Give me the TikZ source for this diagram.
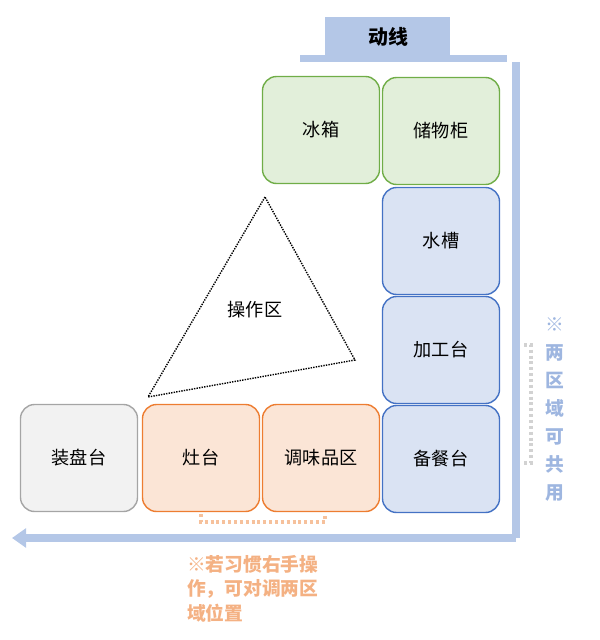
\documentclass[tikz,border=0pt]{standalone}
\usepackage{fontspec}
\setmainfont{Noto Sans CJK SC}
\usetikzlibrary{arrows.meta}
\definecolor{gfill}{HTML}{E2EFDA}
\definecolor{gline}{HTML}{70AD47}
\definecolor{bfill}{HTML}{DAE3F3}
\definecolor{bline}{HTML}{4472C4}
\definecolor{ofill}{HTML}{FBE5D6}
\definecolor{oline}{HTML}{ED7D31}
\definecolor{kfill}{HTML}{F2F2F2}
\definecolor{kline}{HTML}{A5A5A5}
\definecolor{flow}{HTML}{B4C7E7}
\definecolor{note}{HTML}{F4B183}
\tikzset{
  zone/.style={draw, line width=1.2pt, rounded corners=12pt, minimum width=117\pxu, minimum height=107\pxu, font=\fontsize{15.5}{18}\selectfont},
  green/.style={zone, fill=gfill, draw=gline},
  blue/.style={zone, fill=bfill, draw=bline},
  orange/.style={zone, fill=ofill, draw=oline},
  gray/.style={zone, fill=kfill, draw=kline},
  bracket/.style={line width=3pt, dash pattern=on 2.5pt off 2.5pt},
}
\newlength{\pxu}
\setlength{\pxu}{0.03cm}
\begin{document}
\begin{tikzpicture}[x=0.03cm, y=-0.03cm]
            \useasboundingbox (0,0) rectangle (600,640);
            % flow line
            \fill [flow] (325,17) rectangle (450,57);
            \node (title) at (388,37) {\fontsize{17}{20}\selectfont\bfseries 动线};
            \fill [flow] (300,55) rectangle (507,62);
            \coordinate (top) at (516,62);
            \coordinate (corner) at (516,538);
            \coordinate (end) at (12,538);
            \draw [flow, line width=7pt] (top) -- (corner);
            \draw [flow, line width=7pt, -{Triangle[length=12pt,width=16pt]}] (corner) -- (end);
            % zones
            \node [green] (fridge) at (321,130) {冰箱};
            \node [green] (store) at (441,131) {储物柜};
            \node [blue] (sink) at (441,241) {水槽};
            \node [blue] (prep) at (441,350) {加工台};
            \node [blue] (serve) at (441,459) {备餐台};
            \node [orange] (season) at (321,458) {调味品区};
            \node [orange] (stove) at (201,458) {灶台};
            \node [gray] (plate) at (79,458) {装盘台};
            % work triangle
            \coordinate (apex) at (265,197);
            \coordinate (left) at (148,397);
            \coordinate (right) at (355,360);
            \draw [densely dotted, line width=1.2pt] (apex) -- (left) -- (right) -- cycle;
            \node (work) at (255,310) {\fontsize{15.5}{18}\selectfont 操作区};
            % brackets
            \draw [kline!50, bracket] (524,345) -- (531,345) -- (531,463) -- (524,463);
            \draw [note!80, bracket] (201,514) -- (201,522) -- (325,522) -- (325,514);
            % notes
            \node [text=flow!80!bline, font=\fontsize{16}{24}\selectfont\bfseries, align=center, anchor=north] (share) at (555,313) {※\\两\\区\\域\\可\\共\\用};
            \node [text=note, font=\fontsize{16}{21}\selectfont\bfseries, align=left, anchor=north west] (swap) at (183,551) {※若习惯右手操\\作，可对调两区\\域位置};
\end{tikzpicture}
\end{document}
